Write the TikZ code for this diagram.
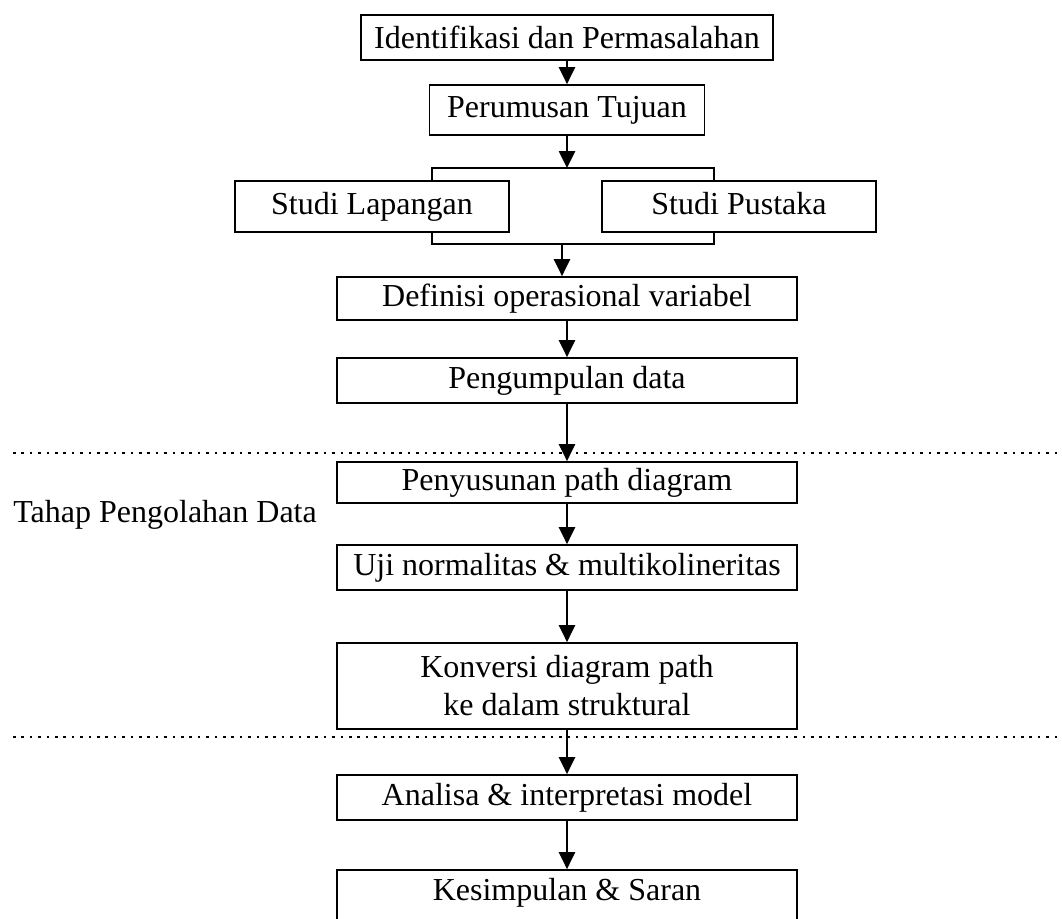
\documentclass[tikz,border=0pt]{standalone}
\usepackage{fontspec}
\setmainfont{Liberation Serif}
\usetikzlibrary{arrows.meta}
\tikzset{%
  tipA/.tip={Triangle[length=8.5pt,width=8pt]},
  box/.style={draw, line width=0.85pt, inner sep=0pt, align=center},
  study/.style={box, minimum width=137pt, minimum height=25.5pt, text height=11pt, text depth=3.5pt},
  flow/.style={line width=1.3pt, -tipA},
  divider/.style={line width=1.3pt, dash pattern=on 1.3pt off 2.9pt}
}

\begin{document}
\begin{tikzpicture}[x=0.5pt,y=-0.5pt,font=\fontsize{16}{19}\selectfont]
\clip (0,0) rectangle (1062,918);
\node[box, minimum width=206pt, minimum height=22.5pt] (ident) at (567,37.5) {Identifikasi dan Permasalahan};
\node[box, minimum width=137.5pt, minimum height=25pt] (tujuan) at (567,110) {Perumusan Tujuan};
\node[study] (lapangan) at (372,206.5) {Studi Lapangan};
\node[study] (pustaka) at (739,206.5) {Studi Pustaka};
\node[box, minimum width=230pt, minimum height=21.5pt] (definisi) at (567,298.5) {Definisi operasional variabel};
\node[box, minimum width=230pt, minimum height=22.5pt] (kumpul) at (567,380.5) {Pengumpulan data};
\node[box, minimum width=230pt, minimum height=20.5pt] (susun) at (567,482.5) {Penyusunan path diagram};
\node[box, minimum width=230pt, minimum height=22.5pt] (uji) at (567,567.5) {Uji normalitas \& multikolineritas};
\node[box, minimum width=230pt, minimum height=43pt] (konversi) at (567,686) {Konversi diagram path\\ke dalam struktural};
\node[box, minimum width=230pt, minimum height=22.5pt] (analisa) at (567,797.5) {Analisa \& interpretasi model};
\node[box, minimum width=230pt, minimum height=30pt, text height=11pt, text depth=10.5pt] (simpul) at (567,900) {Kesimpulan \& Saran};
\node[anchor=west, inner sep=0pt] (tahap) at (13,515) {Tahap Pengolahan Data};
% bracket round the two studies
\coordinate (brTL) at (432,168);
\coordinate (brTR) at (714,168);
\coordinate (brBL) at (432,244);
\coordinate (brBR) at (714,244);
\coordinate (brIn) at (567,168);
\coordinate (brOut) at (562,244);
\draw[line width=0.85pt] (brTL |- lapangan.north) -- (brTL) -- (brTR) -- (brTR |- pustaka.north);
\draw[line width=0.85pt] (brBL |- lapangan.south) -- (brBL) -- (brBR) -- (brBR |- pustaka.south);
\draw[flow] (ident) -- (tujuan);
\draw[flow] (tujuan) -- (brIn);
\draw[flow] (brOut) -- (brOut |- definisi.north);
\draw[flow] (definisi) -- (kumpul);
\draw[flow] (kumpul) -- (susun);
\draw[flow] (susun) -- (uji);
\draw[flow] (uji) -- (konversi);
\draw[flow] (konversi) -- (analisa);
\draw[flow] (analisa) -- (simpul);
% stage separators
\draw[divider] (13,453) -- (1062,453);
\draw[divider] (13,737) -- (1062,737);
\end{tikzpicture}
\end{document}
